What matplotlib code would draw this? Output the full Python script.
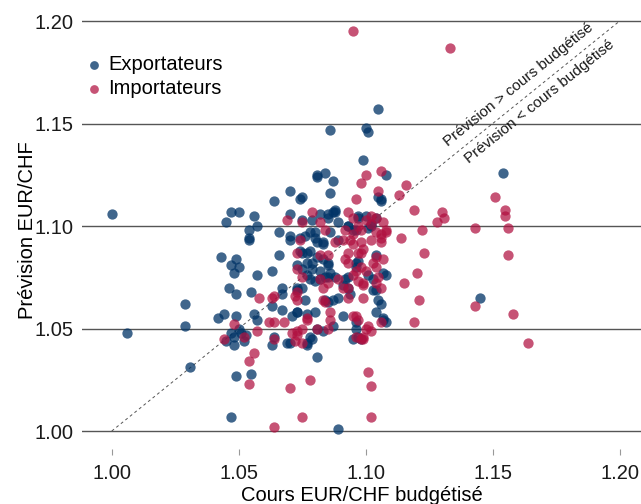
import numpy as np
import matplotlib.pyplot as plt

plt.rcParams['font.family'] = ['Liberation Sans', 'DejaVu Sans']

# cours budgétisé / prévision EUR/CHF, entreprises exportatrices
exp_cours = [1.000, 1.006, 1.029, 1.029, 1.031, 1.047, 1.049, 1.055, 1.045, 1.047,
             1.050, 1.056, 1.057, 1.054, 1.054, 1.043, 1.047, 1.049, 1.050, 1.048,
             1.046, 1.049, 1.057, 1.063, 1.055, 1.066, 1.066, 1.070, 1.070, 1.064,
             1.074, 1.070, 1.081, 1.075, 1.044, 1.042, 1.049, 1.050, 1.048, 1.045,
             1.047, 1.051, 1.053, 1.056, 1.057, 1.063, 1.067, 1.067, 1.067, 1.071,
             1.073, 1.076, 1.080, 1.063, 1.064, 1.069, 1.070, 1.078, 1.077, 1.081,
             1.073, 1.075, 1.078, 1.075, 1.077, 1.079, 1.078, 1.076, 1.078, 1.080,
             1.079, 1.074, 1.081, 1.089, 1.105, 1.086, 1.100, 1.101, 1.099, 1.108,
             1.087, 1.081, 1.084, 1.086, 1.105, 1.106, 1.154, 1.145, 1.082, 1.087,
             1.088, 1.089, 1.085, 1.075, 1.097, 1.104, 1.093, 1.096, 1.101, 1.102,
             1.074, 1.080, 1.095, 1.097, 1.100, 1.106, 1.088, 1.085, 1.086, 1.083,
             1.070, 1.054, 1.073, 1.075, 1.077, 1.079, 1.083, 1.085, 1.082, 1.086,
             1.077, 1.073, 1.080, 1.082, 1.085, 1.089, 1.081, 1.083, 1.104, 1.097,
             1.096, 1.101, 1.107, 1.093, 1.091, 1.094, 1.089, 1.085, 1.084, 1.104,
             1.105, 1.106, 1.104, 1.107, 1.091, 1.077, 1.073, 1.081, 1.083, 1.087,
             1.096, 1.097, 1.098, 1.108, 1.103, 1.108, 1.107, 1.095, 1.096, 1.087,
             1.093, 1.092, 1.103, 1.096, 1.085, 1.084, 1.088, 1.093, 1.102, 1.048,
             1.052, 1.079, 1.077]
exp_prev = [1.106, 1.048, 1.062, 1.051, 1.031, 1.007, 1.027, 1.028, 1.102, 1.107,
            1.107, 1.105, 1.100, 1.094, 1.098, 1.085, 1.081, 1.084, 1.080, 1.077,
            1.070, 1.067, 1.076, 1.078, 1.068, 1.086, 1.097, 1.095, 1.106, 1.112,
            1.113, 1.117, 1.124, 1.114, 1.057, 1.055, 1.056, 1.050, 1.046, 1.044,
            1.048, 1.048, 1.047, 1.057, 1.054, 1.061, 1.059, 1.070, 1.067, 1.056,
            1.058, 1.064, 1.058, 1.042, 1.046, 1.043, 1.043, 1.046, 1.042, 1.036,
            1.069, 1.070, 1.074, 1.079, 1.082, 1.079, 1.088, 1.095, 1.097, 1.097,
            1.103, 1.088, 1.085, 1.001, 1.157, 1.147, 1.148, 1.146, 1.132, 1.125,
            1.122, 1.125, 1.126, 1.116, 1.114, 1.112, 1.126, 1.065, 1.106, 1.107,
            1.107, 1.102, 1.104, 1.103, 1.105, 1.104, 1.100, 1.098, 1.099, 1.100,
            1.094, 1.094, 1.098, 1.104, 1.105, 1.113, 1.108, 1.106, 1.097, 1.092,
            1.093, 1.093, 1.081, 1.087, 1.087, 1.082, 1.084, 1.082, 1.078, 1.077,
            1.076, 1.070, 1.073, 1.074, 1.075, 1.093, 1.092, 1.091, 1.086, 1.083,
            1.080, 1.076, 1.077, 1.075, 1.071, 1.067, 1.065, 1.063, 1.064, 1.069,
            1.064, 1.062, 1.058, 1.055, 1.056, 1.057, 1.058, 1.050, 1.049, 1.051,
            1.050, 1.046, 1.045, 1.076, 1.069, 1.053, 1.054, 1.045, 1.053, 1.064,
            1.070, 1.074, 1.074, 1.082, 1.081, 1.075, 1.075, 1.100, 1.101, 1.042,
            1.044, 1.045, 1.043]

# entreprises importatrices
imp_cours = [1.079, 1.069, 1.075, 1.074, 1.073, 1.075, 1.072, 1.073, 1.058, 1.063,
             1.064, 1.062, 1.064, 1.068, 1.048, 1.044, 1.052, 1.057, 1.071, 1.073,
             1.075, 1.077, 1.056, 1.054, 1.054, 1.070, 1.078, 1.075, 1.064, 1.064,
             1.072, 1.098, 1.099, 1.101, 1.102, 1.102, 1.119, 1.130, 1.128, 1.131,
             1.143, 1.122, 1.114, 1.123, 1.120, 1.115, 1.121, 1.119, 1.143, 1.158,
             1.164, 1.155, 1.155, 1.156, 1.156, 1.151, 1.095, 1.133, 1.100, 1.106,
             1.098, 1.116, 1.105, 1.113, 1.096, 1.093, 1.082, 1.095, 1.100, 1.107,
             1.102, 1.097, 1.092, 1.098, 1.104, 1.106, 1.108, 1.084, 1.091, 1.094,
             1.102, 1.106, 1.108, 1.106, 1.098, 1.095, 1.102, 1.104, 1.088, 1.073,
             1.082, 1.085, 1.093, 1.097, 1.099, 1.095, 1.103, 1.107, 1.104, 1.093,
             1.096, 1.100, 1.099, 1.097, 1.104, 1.106, 1.089, 1.085, 1.083, 1.093,
             1.099, 1.083, 1.086, 1.077, 1.095, 1.097, 1.106, 1.100, 1.102, 1.086,
             1.085, 1.081, 1.075, 1.099, 1.096, 1.073, 1.073, 1.101, 1.096, 1.084,
             1.093, 1.091, 1.095, 1.099, 1.105, 1.104, 1.098, 1.092, 1.098, 1.082]
imp_prev = [1.107, 1.103, 1.102, 1.093, 1.087, 1.075, 1.066, 1.064, 1.065, 1.065,
            1.066, 1.053, 1.053, 1.053, 1.052, 1.045, 1.046, 1.049, 1.048, 1.049,
            1.043, 1.055, 1.038, 1.034, 1.023, 1.021, 1.025, 1.007, 1.002, 1.045,
            1.044, 1.045, 1.045, 1.029, 1.022, 1.007, 1.108, 1.107, 1.102, 1.104,
            1.099, 1.098, 1.094, 1.087, 1.077, 1.072, 1.064, 1.053, 1.061, 1.057,
            1.043, 1.108, 1.105, 1.099, 1.086, 1.114, 1.195, 1.187, 1.125, 1.127,
            1.121, 1.120, 1.117, 1.115, 1.113, 1.107, 1.102, 1.104, 1.103, 1.102,
            1.101, 1.100, 1.098, 1.098, 1.097, 1.096, 1.098, 1.098, 1.093, 1.093,
            1.093, 1.094, 1.097, 1.092, 1.092, 1.096, 1.105, 1.104, 1.092, 1.079,
            1.086, 1.086, 1.087, 1.087, 1.089, 1.091, 1.082, 1.084, 1.080, 1.082,
            1.078, 1.078, 1.072, 1.073, 1.072, 1.070, 1.074, 1.072, 1.070, 1.070,
            1.065, 1.064, 1.058, 1.054, 1.056, 1.054, 1.053, 1.050, 1.049, 1.054,
            1.050, 1.050, 1.050, 1.046, 1.046, 1.047, 1.068, 1.051, 1.056, 1.063,
            1.065, 1.070, 1.076, 1.071, 1.075, 1.085, 1.087, 1.084, 1.080, 1.074]

fig = plt.figure(figsize=(6.41, 5.04), dpi=100)
ax = fig.add_axes([0.128, 0.109, 0.872, 0.881])

ax.plot([1.0, 1.2], [1.0, 1.2], ls=(0, (3, 3)), color='#555555', lw=0.7, zorder=1)
ax.scatter(exp_cours, exp_prev, s=55, color='#003366', alpha=0.75, lw=0,
           label='Exportateurs', zorder=3)
ax.scatter(imp_cours, imp_prev, s=55, color='#B01040', alpha=0.72, lw=0,
           label='Importateurs', zorder=3)

ax.set_xlim(0.9883, 1.2084)
ax.set_ylim(0.9912, 1.2078)
ticks = [1.00, 1.05, 1.10, 1.15, 1.20]
ax.set_xticks(ticks)
ax.set_yticks(ticks)
ax.set_xticklabels([f'{t:.2f}' for t in ticks])
ax.set_yticklabels([f'{t:.2f}' for t in ticks])
ax.tick_params(axis='y', length=0, pad=6, labelsize=14.5, labelcolor='#1a1a1a')
ax.tick_params(axis='x', length=4, width=0.8, color='#999999', pad=7,
               labelsize=14.5, labelcolor='#1a1a1a')
ax.yaxis.grid(True, color='#555555', lw=1)
ax.set_axisbelow(True)
for s in ax.spines.values():
    s.set_visible(False)

ax.set_xlabel('Cours EUR/CHF budgétisé', fontsize=14.5, labelpad=2)
ax.set_ylabel('Prévision EUR/CHF', fontsize=14.5)
ax.yaxis.set_label_coords(-0.08, 0.493)

ang = 38.9
ax.text(1.160, 1.169, 'Prévision > cours budgétisé', rotation=ang,
        rotation_mode='anchor', ha='center', va='center', fontsize=11, color='#1a1a1a')
ax.text(1.1686, 1.1605, 'Prévision < cours budgétisé', rotation=ang,
        rotation_mode='anchor', ha='center', va='center', fontsize=11, color='#1a1a1a')

ax.legend(loc='upper left', bbox_to_anchor=(-0.015, 0.905), frameon=False,
          fontsize=14.5, handletextpad=0.1, labelspacing=0.25, borderaxespad=0,
          handlelength=1.2, markerscale=0.85)

fig.savefig('out.png', dpi=100)
